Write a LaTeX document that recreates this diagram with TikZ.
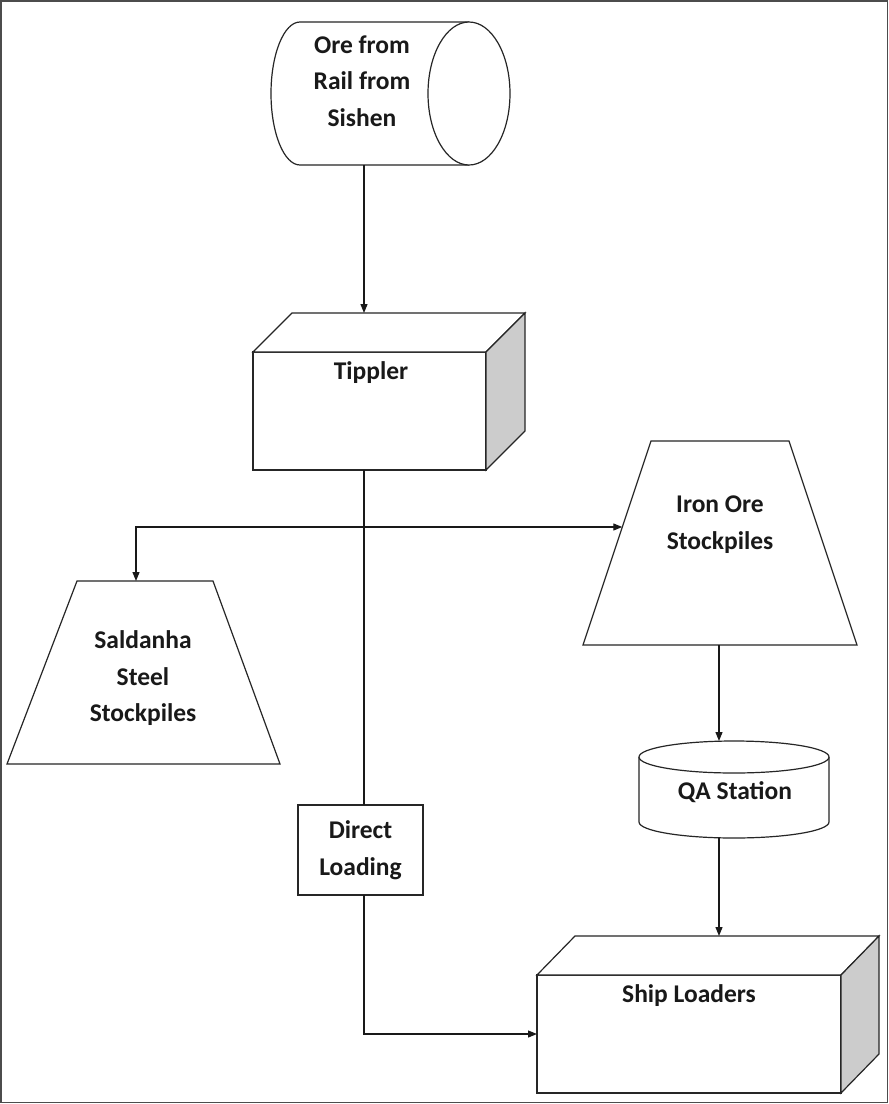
\documentclass[tikz,border=0pt]{standalone}
\usepackage{fontspec}
\setmainfont{Carlito}
\usetikzlibrary{arrows.meta,calc}
\tikzset{
  shapeline/.style={draw=black!85, line width=1.2pt, line join=miter},
  anchorbox/.style={draw=none, rectangle, inner sep=0pt, outer sep=0pt},
  lbl/.style={align=center, inner sep=0pt, text=black!90,
    font=\fontsize{25.5}{36.5}\selectfont\bfseries},
  conn/.style={draw=black!90, line width=1.2pt},
  arr/.style={conn, -{Triangle[length=9pt,width=7pt]}},
  sideface/.style={fill=black!20},
}
\begin{document}
\begin{tikzpicture}[x=1pt,y=-1pt]
\useasboundingbox (0,0) rectangle (889,1104);
\fill[white] (0,0) rectangle (889,1104);
\draw[black!70, line width=1.6pt] (1,1) rectangle (887.5,1102.5);

% ---- shape anchor nodes ----
\node[anchorbox, minimum width=239, minimum height=143.5] (ore) at (390.5,93.5) {};
\node[anchorbox, minimum width=233, minimum height=118] (tip) at (369.5,411) {};
\node[anchorbox, minimum width=273, minimum height=183] (sal) at (143.5,672.5) {};
\node[anchorbox, minimum width=274, minimum height=204] (iron) at (720,543) {};
\node[anchorbox, minimum width=190, minimum height=97] (qa) at (734,789.5) {};
\node[anchorbox, minimum width=304, minimum height=118] (ship) at (689,1034) {};

\coordinate (trunk) at (364,0);
\coordinate (flow) at (719,0);
\coordinate (split) at (364,527);
\coordinate (ironin) at (622.3,527);
\coordinate (salin) at (136,581);
\coordinate (tiptop) at ($(tip.north)+(0,-39)$);
\coordinate (shiptop) at ($(ship.north)+(0,-39)$);

% ---- horizontal cylinder: Ore from Rail ----
\filldraw[shapeline, fill=white] (469,22) -- (300,22) arc[start angle=270, end angle=90, x radius=29, y radius=71.5] -- (469,165);
\filldraw[shapeline, fill=white] (469,93.5) ellipse[x radius=41, y radius=71.5];
\node[lbl] (orelbl) at (362,81) {Ore from\\Rail from\\Sishen};

% ---- Tippler 3D box ----
\filldraw[shapeline, fill=white] (tip.north west) rectangle (tip.south east);
\filldraw[shapeline, fill=white] (tip.north west) -- ++(39,-39) -- ($(tip.north east)+(39,-39)$) -- (tip.north east) -- cycle;
\filldraw[shapeline, sideface] (tip.north east) -- ++(39,-39) -- ($(tip.south east)+(39,-39)$) -- (tip.south east) -- cycle;
\node[lbl] (tiplbl) at (371,373) {Tippler};

% ---- Saldanha trapezoid ----
\filldraw[shapeline, fill=white] ($(sal.north west)+(70,0)$) -- ($(sal.north east)+(-67,0)$) -- (sal.south east) -- (sal.south west) -- cycle;
\node[lbl] (sallbl) at (143,678.5) {Saldanha\\Steel\\Stockpiles};

% ---- Iron ore trapezoid ----
\filldraw[shapeline, fill=white] ($(iron.north west)+(68,0)$) -- ($(iron.north east)+(-68,0)$) -- (iron.south east) -- (iron.south west) -- cycle;
\node[lbl] (ironlbl) at (720,524.5) {Iron Ore\\Stockpiles};

% ---- QA Station cylinder ----
\filldraw[shapeline, fill=white] (639,757) -- (639,822) arc[start angle=180, end angle=0, x radius=95, y radius=16] -- (829,757);
\filldraw[shapeline, fill=white] (734,757) ellipse[x radius=95, y radius=16];
\node[lbl] (qalbl) at (735,792) {QA Station};

% ---- Ship Loaders 3D box ----
\filldraw[shapeline, fill=white] (ship.north west) rectangle (ship.south east);
\filldraw[shapeline, fill=white] (ship.north west) -- ++(38,-39) -- ($(ship.north east)+(38,-39)$) -- (ship.north east) -- cycle;
\filldraw[shapeline, sideface] (ship.north east) -- ++(38,-39) -- ($(ship.south east)+(38,-39)$) -- (ship.south east) -- cycle;
\node[lbl] (shiplbl) at (689,996) {Ship Loaders};

% ---- Direct Loading box ----
\node[lbl, draw=black!85, line width=1.2pt, fill=white, minimum width=125, minimum height=90, outer sep=0pt] (dl) at (360.5,850) {Direct\\Loading};

% ---- connectors ----
\draw[arr] (ore.south -| trunk) -- (tiptop -| trunk);
\draw[conn] (tip.south -| trunk) -- (dl.north -| trunk);
\draw[arr] (split) -- (ironin);
\draw[arr] (split) -| (salin);
\draw[arr] (dl.south -| trunk) |- (ship.west);
\draw[arr] (iron.south -| flow) -- (qa.north -| flow);
\draw[arr] (qa.south -| flow) -- (shiptop -| flow);
\end{tikzpicture}
\end{document}
